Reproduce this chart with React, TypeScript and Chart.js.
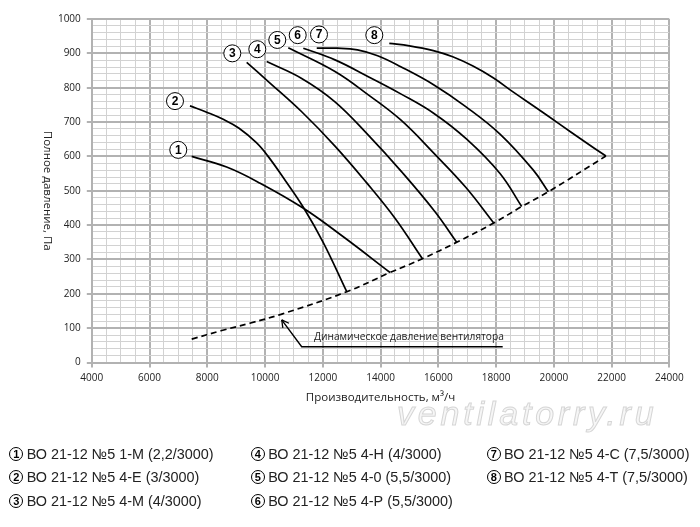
import React, { useEffect, useRef } from 'react';
import { Chart, registerables } from 'chart.js';

Chart.register(...registerables);

// ---- axes ----
const xMin = 4000;
const xMax = 24000;
const yMin = 0;
const yMax = 1000;
const xMajorStep = 2000;
const xMinorStep = 500;
const yMajorStep = 100;
const yMinorStep = 20;
const xTitle = 'Производительность, м³/ч';
const yTitle = 'Полное давление, Па';

// ---- fan curves [Q m3/h, P Pa] ----
const curve1 = [[7460, 600], [8670, 569], [9830, 522], [11330, 449], [12710, 366], [14330, 262]];
const curve2 = [[7400, 747], [8000, 728], [8550, 708], [9100, 682], [9700, 640], [10080, 603], [10700, 530], [11325, 452], [12017, 349], [12830, 206]];
const curve3 = [[9364, 874], [10113, 818], [11269, 730], [12422, 630], [13500, 525], [14500, 420], [15450, 302]];
const curve4 = [[10057, 876], [11269, 827], [12422, 759], [13576, 662], [14733, 555], [15886, 439], [16637, 350]];
const curve5 = [[10805, 916], [12422, 847], [13576, 779], [14700, 706], [15860, 608], [16950, 510], [17920, 406]];
const curve6 = [[11325, 915], [12422, 881], [13576, 832], [14700, 782], [15850, 725], [16983, 650], [18137, 550], [18888, 454]];
const curve7 = [[11790, 915], [12500, 915], [13200, 910], [13900, 893], [14700, 861], [15850, 808], [16950, 745], [18137, 665], [19291, 560], [19810, 497]];
const curve8 = [[14303, 929], [15000, 922], [15827, 908], [16500, 890], [17200, 863], [17900, 829], [18600, 787], [19400, 741], [20200, 694], [21000, 647], [21805, 601]];
const curves = [curve1, curve2, curve3, curve4, curve5, curve6, curve7, curve8];

// ---- dynamic pressure (dashed) ----
const dynamicQ = [7460, 8500, 9500, 10580, 12830, 14330, 15450, 16637, 17920, 18888, 19810, 21805];
const dynamicP = [68, 93, 115, 141, 206, 262, 302, 350, 406, 454, 497, 601];

// ---- callout: tip, corner, end ----
const calloutQ = [10577, 11269, 18230];
const calloutP = [124, 46, 46];
const calloutText = 'Динамическое давление вентилятора';
const calloutTextQ = 11696;
const calloutTextP = 73;

// ---- curve number markers ----
const markerNums = ['1', '2', '3', '4', '5', '6', '7', '8'];
const markerQ = [6995, 6881, 8866, 9732, 10424, 11131, 11868, 13784];
const markerP = [619, 761, 900, 912, 939, 953, 955, 953];

// ---- legend ----
const legendNums = ['1', '2', '3', '4', '5', '6', '7', '8'];
const legendTexts = [
  'ВО 21-12 №5 1-М (2,2/3000)',
  'ВО 21-12 №5 4-Е (3/3000)',
  'ВО 21-12 №5 4-М (4/3000)',
  'ВО 21-12 №5 4-Н (4/3000)',
  'ВО 21-12 №5 4-0 (5,5/3000)',
  'ВО 21-12 №5 4-Р (5,5/3000)',
  'ВО 21-12 №5 4-С (7,5/3000)',
  'ВО 21-12 №5 4-Т (7,5/3000)',
];
const watermark = 'ventilatorry.ru';

const FONT = '"Open Sans", "Noto Sans", sans-serif';

const overlayPlugin = {
  id: 'overlay',
  afterDatasetsDraw(chart: any) {
    const { ctx, scales } = chart;
    const x = scales.x;
    const y = scales.y;
    ctx.save();
    // arrow head at the callout tip
    const tx = x.getPixelForValue(calloutQ[0]);
    const ty = y.getPixelForValue(calloutP[0]);
    const cx = x.getPixelForValue(calloutQ[1]);
    const cy = y.getPixelForValue(calloutP[1]);
    const ang = Math.atan2(cy - ty, cx - tx);
    ctx.strokeStyle = '#000';
    ctx.lineWidth = 1.3;
    for (const s of [-1, 1]) {
      ctx.beginPath();
      ctx.moveTo(tx, ty);
      ctx.lineTo(tx + 8 * Math.cos(ang + s * 0.5), ty + 8 * Math.sin(ang + s * 0.5));
      ctx.stroke();
    }
    // callout text
    ctx.fillStyle = '#222';
    ctx.font = `10.2px ${FONT}`;
    ctx.textAlign = 'left';
    ctx.textBaseline = 'middle';
    ctx.fillText(calloutText, x.getPixelForValue(calloutTextQ), y.getPixelForValue(calloutTextP));
    // number markers
    for (let i = 0; i < markerNums.length; i++) {
      const px = x.getPixelForValue(markerQ[i]);
      const py = y.getPixelForValue(markerP[i]);
      ctx.beginPath();
      ctx.arc(px, py, 8.5, 0, Math.PI * 2);
      ctx.fillStyle = '#fff';
      ctx.fill();
      ctx.lineWidth = 1;
      ctx.strokeStyle = '#000';
      ctx.stroke();
      ctx.fillStyle = '#000';
      ctx.font = `bold 12px "Liberation Sans", sans-serif`;
      ctx.textAlign = 'center';
      ctx.textBaseline = 'middle';
      ctx.fillText(markerNums[i], px, py + 0.5);
    }
    ctx.restore();
  },
  afterDraw(chart: any) {
    const { ctx, chartArea } = chart;
    ctx.save();
    ctx.fillStyle = '#222';
    ctx.font = `11.5px ${FONT}`;
    ctx.textAlign = 'center';
    ctx.textBaseline = 'middle';
    ctx.fillText(xTitle, (chartArea.left + chartArea.right) / 2, 398);
    ctx.translate(47, (chartArea.top + chartArea.bottom) / 2);
    ctx.rotate(Math.PI / 2);
    ctx.fillText(yTitle, 0, 0);
    ctx.restore();
  },
};

function App() {
  const canvasRef = useRef<HTMLCanvasElement>(null);

  useEffect(() => {
    if (!canvasRef.current) return;
    const curveSets = curves.map((c) => ({
      data: c.map(([q, p]) => ({ x: q, y: p })),
      borderColor: '#000',
      borderWidth: 1.7,
      pointRadius: 0,
      fill: false,
      tension: 0.4,
    }));
    const dynSet = {
      data: dynamicQ.map((q, i) => ({ x: q, y: dynamicP[i] })),
      borderColor: '#000',
      borderWidth: 1.7,
      borderDash: [6, 4],
      pointRadius: 0,
      fill: false,
      tension: 0.4,
    };
    const calloutSet = {
      data: calloutQ.map((q, i) => ({ x: q, y: calloutP[i] })),
      borderColor: '#000',
      borderWidth: 1.4,
      pointRadius: 0,
      fill: false,
      tension: 0,
    };
    const isMajorX = (v: number) => Math.abs(v % xMajorStep) < 1e-6;
    const isMajorY = (v: number) => Math.abs(v % yMajorStep) < 1e-6;
    const chart = new Chart(canvasRef.current, {
      type: 'line',
      data: { datasets: [dynSet, calloutSet, ...curveSets] as any },
      plugins: [overlayPlugin],
      options: {
        animation: false,
        responsive: false,
        maintainAspectRatio: false,
        layout: { padding: { left: 0, top: 19, right: 30.7, bottom: 134.5 } },
        plugins: { legend: { display: false }, tooltip: { enabled: false } },
        scales: {
          x: {
            type: 'linear',
            min: xMin,
            max: xMax,
            afterFit: (s: any) => { s.height = 30; },
            afterBuildTicks: (s: any) => {
              const t = [];
              for (let v = xMin; v <= xMax; v += xMinorStep) t.push({ value: v });
              s.ticks = t;
            },
            ticks: {
              autoSkip: false,
              maxRotation: 0,
              padding: 5,
              color: '#222',
              font: { family: FONT, size: 10 },
              callback: (v: any) => (isMajorX(Number(v)) ? String(v) : ''),
            },
            grid: {
              color: (c: any) => (c.tick && isMajorX(c.tick.value) ? '#b2b2b2' : '#d2d2d2'),
              lineWidth: (c: any) => (c.tick && isMajorX(c.tick.value) ? 2 : 1),
              tickColor: (c: any) => (c.tick && isMajorX(c.tick.value) ? '#b2b2b2' : 'rgba(0,0,0,0)'),
              tickLength: 5,
            },
            border: { display: true, color: '#b2b2b2', width: 2 },
          },
          y: {
            type: 'linear',
            min: yMin,
            max: yMax,
            afterFit: (s: any) => { s.width = 91.8; },
            afterBuildTicks: (s: any) => {
              const t = [];
              for (let v = yMin; v <= yMax; v += yMinorStep) t.push({ value: v });
              s.ticks = t;
            },
            ticks: {
              autoSkip: false,
              padding: 6,
              color: '#222',
              font: { family: FONT, size: 10 },
              callback: (v: any) => (isMajorY(Number(v)) ? String(v) : ''),
            },
            grid: {
              color: (c: any) => (c.tick && isMajorY(c.tick.value) ? '#b2b2b2' : '#d2d2d2'),
              lineWidth: (c: any) => (c.tick && isMajorY(c.tick.value) ? 2 : 1),
              tickColor: (c: any) => (c.tick && isMajorY(c.tick.value) ? '#b2b2b2' : 'rgba(0,0,0,0)'),
              tickLength: 5,
            },
            border: { display: true, color: '#b2b2b2', width: 2 },
          },
        },
      } as any,
    });
    return () => chart.destroy();
  }, []);

  const colCircleX = [16.3, 257.8, 493.7];
  const rowY = [454, 477, 501];

  return (
    <div style={{ position: 'absolute', left: 0, top: 0, width: 700, height: 527, background: '#fff', overflow: 'hidden' }}>
      <canvas ref={canvasRef} width={700} height={527} style={{ position: 'absolute', left: 0, top: 0, width: 700, height: 527 }} />
      <span
        style={{
          position: 'absolute',
          left: 397,
          top: 393,
          fontFamily: '"Liberation Sans", sans-serif',
          fontStyle: 'italic',
          fontSize: 34,
          letterSpacing: 3.8,
          color: '#f6f6f6',
          WebkitTextStroke: '1px #d6d6d6',
          whiteSpace: 'nowrap',
          lineHeight: '40px',
        }}
      >
        {watermark}
      </span>
      {legendTexts.map((t, i) => {
        const col = Math.floor(i / 3);
        const row = i % 3;
        return (
          <div
            key={i}
            style={{
              position: 'absolute',
              left: colCircleX[col] - 7,
              top: rowY[row] - 9,
              height: 18,
              display: 'flex',
              alignItems: 'center',
              whiteSpace: 'nowrap',
            }}
          >
            <span
              style={{
                width: 14,
                height: 14,
                boxSizing: 'border-box',
                border: '1.3px solid #000',
                borderRadius: '50%',
                display: 'inline-flex',
                alignItems: 'center',
                justifyContent: 'center',
                fontFamily: '"Liberation Sans", sans-serif',
                fontWeight: 'bold',
                fontSize: 11,
                color: '#000',
              }}
            >
              {legendNums[i]}
            </span>
            <span
              style={{
                marginLeft: 3.4,
                fontFamily: '"Liberation Sans", sans-serif',
                fontSize: 14.4,
                color: '#222',
              }}
            >
              {t}
            </span>
          </div>
        );
      })}
    </div>
  );
}

export default App;
